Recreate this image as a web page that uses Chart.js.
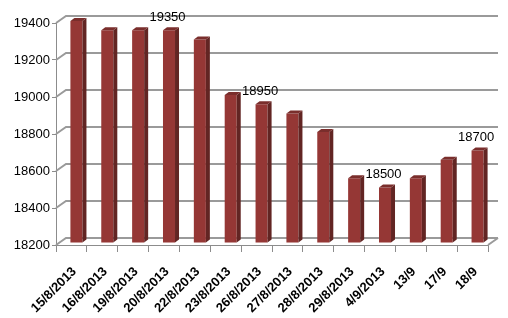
<!DOCTYPE html>
<html>
<head>
<meta charset="utf-8">
<script src="https://cdn.jsdelivr.net/npm/chart.js@4"></script>
<style>
  body { margin: 0; background: #fff; }
</style>
</head>
<body>
<canvas id="chart" width="508" height="318"></canvas>
<script>
// values
const days = ['15/8/2013', '16/8/2013', '19/8/2013', '20/8/2013', '22/8/2013', '23/8/2013', '26/8/2013',
              '27/8/2013', '28/8/2013', '29/8/2013', '4/9/2013', '13/9', '17/9', '18/9'];
const prices = [19400, 19350, 19350, 19350, 19300, 19000, 18950, 18900, 18800, 18550, 18500, 18550, 18650, 18700];
// bars that carry a value label
const labelled = [3, 6, 10, 13];

const yMin = 18200, yMax = 19400, yStep = 200;

// 3d look: back wall offset and bar depth
const wallDx = 10, wallDy = -7;
const barDx = 5, barDy = -2;
const sideDx = 4, sideDy = -3;

const box3d = {
    id: 'box3d',
    beforeDatasetsDraw(chart) {
        const { ctx, chartArea: a, scales: { y } } = chart;
        ctx.save();
        ctx.strokeStyle = '#9a9a9a';
        ctx.lineWidth = 2;
        ctx.beginPath();
        for (let v = yMin; v <= yMax; v += yStep) {
            const py = Math.round(y.getPixelForValue(v));
            ctx.moveTo(a.left, py);
            ctx.lineTo(a.left + wallDx, py + wallDy);
            ctx.lineTo(a.right + wallDx, py + wallDy);
        }
        const pb = Math.round(a.bottom);
        ctx.moveTo(a.right, pb);
        ctx.lineTo(a.right + wallDx, pb + wallDy);
        ctx.stroke();
        ctx.restore();

        ctx.save();
        ctx.translate(barDx, barDy);
    },
    afterDatasetsDraw(chart) {
        const { ctx } = chart;
        const bars = chart.getDatasetMeta(0).data;
        bars.forEach((bar, i) => {
            const l = bar.x - bar.width / 2, r = bar.x + bar.width / 2;
            ctx.fillStyle = '#622523';
            ctx.beginPath();
            ctx.moveTo(r, bar.y);
            ctx.lineTo(r + sideDx, bar.y + sideDy);
            ctx.lineTo(r + sideDx, bar.base + sideDy);
            ctx.lineTo(r, bar.base);
            ctx.closePath();
            ctx.fill();
            ctx.fillStyle = '#7a2e2c';
            ctx.beginPath();
            ctx.moveTo(l, bar.y);
            ctx.lineTo(l + sideDx, bar.y + sideDy);
            ctx.lineTo(r + sideDx, bar.y + sideDy);
            ctx.lineTo(r, bar.y);
            ctx.closePath();
            ctx.fill();
        });
        ctx.fillStyle = '#000';
        ctx.font = '13px "Liberation Sans"';
        ctx.textAlign = 'center';
        ctx.textBaseline = 'middle';
        labelled.forEach(i => {
            const bar = bars[i];
            ctx.fillText(prices[i], bar.x - 1.5, bar.y - 13);
        });
        ctx.restore();
    }
};

new Chart(document.getElementById('chart'), {
    type: 'bar',
    data: {
        labels: days,
        datasets: [{
            data: prices,
            backgroundColor: '#953735',
            borderWidth: 0,
            barPercentage: 0.39,
            categoryPercentage: 1,
            base: yMin
        }]
    },
    options: {
        responsive: false,
        animation: false,
        events: [],
        layout: { padding: { top: 23, right: 20, left: 0, bottom: 0 } },
        plugins: { legend: { display: false }, tooltip: { enabled: false } },
        scales: {
            x: {
                afterFit(s) { s.height = 73; },
                grid: { drawOnChartArea: false, tickLength: 7, color: '#8c8c8c' },
                border: { color: '#8c8c8c' },
                ticks: {
                    minRotation: 45, maxRotation: 45,
                    color: '#000',
                    padding: 12,
                    labelOffset: 3,
                    font: { family: 'Liberation Sans', size: 13, weight: 'bold' }
                }
            },
            y: {
                min: yMin, max: yMax,
                afterFit(s) { s.width = 56; },
                grid: { drawOnChartArea: false, tickLength: 4, color: '#8c8c8c' },
                border: { color: '#8c8c8c' },
                ticks: {
                    stepSize: yStep,
                    color: '#000',
                    padding: 2,
                    callback: v => String(v),
                    font: { family: 'Liberation Sans', size: 13 }
                }
            }
        }
    },
    plugins: [box3d]
});
</script>
</body>
</html>
